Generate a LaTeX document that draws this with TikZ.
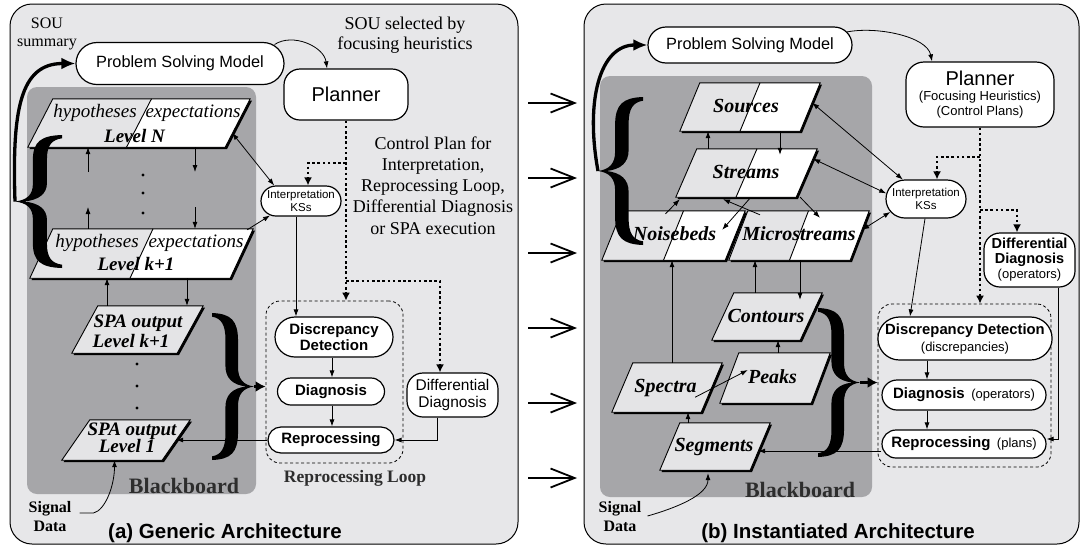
\documentclass[tikz,border=0pt]{standalone}
\usepackage{fontspec}
\setmainfont{Liberation Serif}
\setsansfont{Liberation Sans}
\usetikzlibrary{arrows.meta,shapes.misc,fit,calc}
\definecolor{panel}{RGB}{231,231,233}
\definecolor{bb}{RGB}{166,166,169}
\definecolor{lg}{RGB}{228,228,230}
\definecolor{txtg}{RGB}{45,45,45}

\newcommand\paraOne[6]{%
  \node[inner sep=0pt, fit={(#2,#3)(#4,#5)}] (#1) {};
  \fill[black] ([shift={(1.8,1.8)}]#1.south west) -- ([shift={(#6+1.8,1.8)}]#1.north west) -- ([shift={(1.8,1.8)}]#1.north east) -- ([shift={(1.8-#6,1.8)}]#1.south east) -- cycle;
  \filldraw[fill=lg, line width=0.9pt] (#1.south west) -- ([shift={(#6,0)}]#1.north west) -- (#1.north east) -- ([shift={(-#6,0)}]#1.south east) -- cycle;
}
\newcommand\paraTwo[6]{%
  \node[inner sep=0pt, fit={(#2,#3)(#4,#5)}] (#1) {};
  \fill[black] ([shift={(1.8,1.8)}]#1.south west) -- ([shift={(#6+1.8,1.8)}]#1.north west) -- ([shift={(1.8,1.8)}]#1.north east) -- ([shift={(1.8-#6,1.8)}]#1.south east) -- cycle;
  \fill[white] (#1.south west) -- ([shift={(#6,0)}]#1.north west) -- (#1.north east) -- ([shift={(-#6,0)}]#1.south east) -- cycle;
  \fill[lg] (#1.south west) -- ([shift={(#6,0)}]#1.north west) -- ([shift={(#6/2,0)}]#1.north) -- ([shift={(-#6/2,0)}]#1.south) -- cycle;
  \draw[line width=0.9pt] (#1.south west) -- ([shift={(#6,0)}]#1.north west) -- (#1.north east) -- ([shift={(-#6,0)}]#1.south east) -- cycle;
  \draw[line width=0.9pt] ([shift={(#6/2,0)}]#1.north) -- ([shift={(-#6/2,0)}]#1.south);
}
% filled calligraphic brace: tip at local (0,0.5), ends at local x=1
\newcommand\bracefill[5]{%
  \begin{scope}[shift={(#1,#2)}, xscale=#3, yscale=#4]
  \fill[black] (1,0) .. controls (0.55,0.005) and (0.38,0.05) .. (0.38,0.19)
    -- (0.38,0.37) .. controls (0.38,0.45) and (0.25,0.49) .. (0,0.5)
    .. controls (0.25,0.51) and (0.38,0.55) .. (0.38,0.63)
    -- (0.38,0.81) .. controls (0.38,0.95) and (0.55,0.995) .. (1,1)
    -- (1,0.975) .. controls (0.78,0.965) and (0.68,0.92) .. (0.68,0.82)
    -- (0.68,0.64) .. controls (0.68,0.56) and (0.52,0.51) .. (0.18,0.5)
    .. controls (0.52,0.49) and (0.68,0.44) .. (0.68,0.36)
    -- (0.68,0.18) .. controls (0.68,0.08) and (0.78,0.035) .. (1,0.025) -- cycle;
  \coordinate (#5) at (0,0.5);
  \end{scope}}

\tikzset{
  panelbox/.style={draw=black, line width=1pt, fill=panel, rounded corners=22pt},
  bbbox/.style={fill=bb, rounded corners=10pt},
  stad/.style={rounded rectangle, draw, line width=1.2pt, fill=white, inner sep=1pt, align=center, font=\sffamily},
  rbox/.style={rectangle, rounded corners=#1, draw, line width=1.2pt, fill=white, inner sep=1pt, align=center},
  rbox/.default=15pt,
  loopbox/.style={draw, line width=0.8pt, dash pattern=on 3pt off 2.5pt, rounded corners=14pt},
  arr/.style={line width=0.8pt, -{Latex[length=7pt,width=5pt]}},
  darr/.style={line width=0.8pt, {Latex[length=7pt,width=5pt]}-{Latex[length=7pt,width=5pt]}},
  dotarr/.style={line width=2.4pt, dash pattern=on 2.6pt off 2.6pt, -{Latex[length=8pt,width=8pt]}},
  thickarr/.style={line width=3.3pt, -{Latex[length=14pt,width=12pt]}},
  bracearr/.style={line width=3.3pt, -{Latex[length=10pt,width=11pt]}},
  midarr/.style={line width=1.8pt, -{Straight Barb[length=24pt,width=19pt,line width=1.8pt]}},
  txt/.style={inner sep=0pt, anchor=base},
  serif/.style={txt, font=\fontsize{#1}{#1}\selectfont},
  hyp/.style={txt, font=\itshape\fontsize{19}{20}\selectfont},
  lvl/.style={txt, font=\bfseries\itshape\fontsize{19}{20}\selectfont},
  lvlR/.style={txt, font=\bfseries\itshape\fontsize{20}{20}\selectfont},
  bbtxt/.style={txt, text=txtg, font=\bfseries\fontsize{22}{22}\selectfont},
  captxt/.style={txt, font=\sffamily\bfseries\fontsize{20.5}{22}\selectfont},
  sigtxt/.style={inner sep=0pt, align=center, font=\bfseries\fontsize{16}{19}\selectfont},
}

\begin{document}
\begin{tikzpicture}[x=1pt,y=-1pt]
\useasboundingbox (0,0) rectangle (1081,547);

% ================= LEFT PANEL =================
\draw[panelbox] (10,4) rectangle (518,544);
\fill[bbbox] (27,87) rectangle (256,494);

\node[serif=16] (souA) at (47,28) {SOU};
\node[serif=16] (summA) at (47,46) {summary};
\node[inner sep=0pt, align=center, font=\fontsize{18}{20}\selectfont] (selA) at (405,35.5) {SOU selected by\\focusing heuristics};
\node[inner sep=0pt, align=center, font=\fontsize{18}{21.2}\selectfont] (ctrlA) at (433,185.5) {Control Plan for\\Interpretation,\\Reprocessing Loop,\\Differential Diagnosis\\or SPA execution};

\node[stad, minimum width=210pt, minimum height=42pt, font=\sffamily\fontsize{16.3}{18}\selectfont] (psmA) at (180,63.5) {Problem Solving Model};
\node[rbox=16pt, minimum width=124pt, minimum height=51pt, font=\sffamily\fontsize{20}{22}\selectfont] (plannerA) at (346,94.5) {Planner};
\node[stad, minimum width=82pt, minimum height=30pt, font=\sffamily\fontsize{11.5}{12.5}\selectfont] (interpA) at (301,201) {Interpretation\\KSs};

\node[loopbox, minimum width=137pt, minimum height=162pt] (loopA) at (334.5,382) {};
\node[stad, minimum width=120pt, minimum height=40pt, font=\sffamily\bfseries\fontsize{15}{16.5}\selectfont] (ddA) at (334,337) {Discrepancy\\Detection};
\node[stad, minimum width=109pt, minimum height=27pt, font=\sffamily\bfseries\fontsize{15}{16.5}\selectfont] (diagA) at (331,391.5) {Diagnosis};
\node[stad, minimum width=128pt, minimum height=26pt, font=\sffamily\bfseries\fontsize{15}{16.5}\selectfont] (reprA) at (331,440) {Reprocessing};
\node[rbox=16pt, minimum width=91pt, minimum height=44pt, font=\sffamily\fontsize{15.5}{16.5}\selectfont] (diffA) at (452.5,395) {Differential\\Diagnosis};
\node[txt, text=txtg, font=\bfseries\fontsize{17.5}{18}\selectfont] (loopLblA) at (355,482) {Reprocessing Loop};

% parallelograms
\paraTwo{lvN}{28}{99}{250}{147}{25}
\paraTwo{lvK}{30}{229}{253}{278}{23}
\paraOne{spaK}{72}{306}{203}{353}{26}
\paraOne{spa1}{62}{420}{190}{460}{28}

\node[hyp] (hypN) at (95,117) {hypotheses};
\node[hyp] (expN) at (193,117) {expectations};
\node[lvl] (levN) at (134.5,142) {Level N};
\node[hyp] (hypK) at (97,247) {hypotheses};
\node[hyp] (expK) at (196,247) {expectations};
\node[lvl] (levK) at (136,270) {Level k+1};
\node[lvl] (spaKa) at (138,327) {SPA output};
\node[lvl] (spaKb) at (131,347) {Level k+1};
\node[lvl] (spa1a) at (132,435) {SPA output};
\node[lvl] (spa1b) at (127,452) {Level 1};

\node[bbtxt] (bbA) at (184,493) {Blackboard};
\node[sigtxt] (sigA) at (50,517) {Signal\\Data};
\node[captxt] (capA) at (225,538) {(a) Generic Architecture};

% dots
\coordinate (gapTop) at (0,172);
\coordinate (gapBot) at (0,207);
\foreach \yy in {175,193,213} \fill (143,\yy) circle (1.6pt);
\foreach \yy in {364,386,408} \fill (137,\yy) circle (1.6pt);

% braces
\bracefill{15}{135}{47}{133}{lbAtip}
\bracefill{254}{313}{-42}{147}{rbAtip}

% connectors left
\draw[thickarr] (lbAtip) .. controls (12,110) and (20,63.5) .. (psmA.west);
\draw[bracearr] (rbAtip) -- (rbAtip -| loopA.west);
\draw[arr] ([shift={(-10,-19)}]psmA.east) .. controls +(18,-12) and +(-3,-22) .. ([xshift=-19pt]plannerA.north);

\draw[arr] (88,0 |- gapTop) -- (88,0 |- lvN.south);
\draw[arr] (88,0 |- lvK.north) -- (88,0 |- gapBot);
\draw[arr] (195,0 |- lvN.south) -- (195,0 |- gapTop);
\draw[arr] (195,0 |- gapBot) -- (195,0 |- lvK.north);
\draw[arr] (107,0 |- spaK.north) -- (107,0 |- lvK.south);
\draw[arr] (187,0 |- lvK.south) -- (187,0 |- spaK.north);
\draw[darr] ([shift={(-18,10)}]lvN.east) -- (interpA.150);
\draw[arr] ([shift={(-6,1)}]lvK.north east) -- (interpA.205);
\draw[arr] (296,0 |- interpA.south) -- (296,0 |- ddA.north);
\draw[arr] (332,0 |- ddA.south) -- (332,0 |- diagA.north);
\draw[arr] (332,0 |- diagA.south) -- (332,0 |- reprA.north);
\draw[arr] (437,0 |- diffA.south) |- (reprA.east);
\draw[arr] (reprA.west) -- ([xshift=-14pt]spa1.east);
\draw[arr] ([shift={(8,-4)}]sigA.east) -- ++(14,0) .. controls +(12,-3) and +(0,25) .. ([xshift=-11.5pt]spa1.south);

\coordinate (jA1) at (plannerA.south |- 0,163);
\coordinate (jA2) at (plannerA.south |- 0,281);
\draw[dotarr] (plannerA.south) -- (plannerA.south |- loopA.north);
\draw[dotarr] (jA1) -| (308,0 |- interpA.north);
\draw[dotarr] (jA2) -| (440,0 |- diffA.north);

% ================= MIDDLE ARROWS =================
\foreach \yy in {103,178,253,328,403,478} \draw[midarr] (528,\yy) -- (577,\yy);

% ================= RIGHT PANEL =================
\draw[panelbox] (584,4) rectangle (1079,544);
\fill[bbbox] (600,76) rectangle (872,497);

\node[stad, minimum width=206pt, minimum height=36pt, font=\sffamily\fontsize{16.3}{18}\selectfont] (psmB) at (750,45) {Problem Solving Model};
\node[rbox=18pt, minimum width=148pt, minimum height=65pt, font=\sffamily\fontsize{13}{15}\selectfont] (plannerB) at (980,94.5) {{\fontsize{20}{20}\selectfont Planner}\\(Focusing Heuristics)\\(Control Plans)};
\node[stad, minimum width=82pt, minimum height=38pt, font=\sffamily\fontsize{11.5}{13}\selectfont] (interpB) at (926,199) {Interpretation\\KSs};
\node[rbox=16pt, minimum width=91pt, minimum height=54pt, font=\sffamily\fontsize{13}{15}\selectfont] (diffB) at (1029.5,260) {{\bfseries\fontsize{14.5}{15}\selectfont Differential}\\{\bfseries\fontsize{14.5}{15}\selectfont Diagnosis}\\(operators)};

\node[loopbox, minimum width=173pt, minimum height=163pt] (loopB) at (964.5,385.5) {};
\node[stad, minimum width=168pt, minimum height=43pt, font=\sffamily\fontsize{13}{17}\selectfont] (ddB) at (965,338.5) {{\bfseries\fontsize{14.8}{16}\selectfont Discrepancy Detection}\\(discrepancies)};
\node[stad, minimum width=166pt, minimum height=30pt, font=\sffamily\fontsize{13}{15}\selectfont] (diagB) at (964,395) {{\bfseries\fontsize{15}{16}\selectfont Diagnosis}\enspace(operators)};
\node[stad, minimum width=166pt, minimum height=28pt, font=\sffamily\fontsize{13}{15}\selectfont] (reprB) at (964,444) {{\bfseries\fontsize{15}{16}\selectfont Reprocessing}\enspace(plans)};

\paraTwo{sources}{680}{83}{820}{131}{20}
\paraTwo{streams}{676}{149}{817}{197}{21}
\paraTwo{noise}{602}{211}{745}{260}{20}
\paraTwo{micro}{729}{211}{869}{260}{19}
\paraOne{contours}{712}{293}{822}{340}{22}
\paraOne{peaks}{720}{353}{830}{403}{19}
\paraOne{spectra}{612}{363}{722}{412}{21}
\paraOne{segments}{660}{423}{770}{470}{20}

\node[lvlR] (srcT) at (746,112) {Sources};
\node[lvlR] (strT) at (746,178) {Streams};
\node[lvlR] (noiT) at (674.5,240) {Noisebeds};
\node[lvlR] (micT) at (799,240) {Microstreams};
\node[lvlR] (conT) at (766,322) {Contours};
\node[lvlR] (peaT) at (772.5,383) {Peaks};
\node[lvlR] (speT) at (665.5,392) {Spectra};
\node[lvlR] (segT) at (714,451) {Segments};

\node[bbtxt] (bbB) at (800,497) {Blackboard};
\node[sigtxt] (sigB) at (620,517) {Signal\\Data};
\node[captxt] (capB) at (838,538) {(b) Instantiated Architecture};

\bracefill{598}{97}{45}{148}{lbBtip}
\bracefill{860}{308}{-42}{149}{rbBtip}

% connectors right
\draw[thickarr] (lbBtip) .. controls (585,100) and (600,45) .. (psmB.west);
\draw[bracearr] (rbBtip) -- (rbBtip -| loopB.west);
\draw[arr] ([shift={(-6,-13)}]psmB.east) .. controls +(30,-6) and +(-5,-25) .. ([xshift=-48pt]plannerB.north);

\draw[arr] (708,0 |- streams.north) -- (708,0 |- sources.south);
\draw[arr] (780,0 |- sources.south) -- ($(780,0 |- streams.north)+(0,6)$);
\draw[arr] ([shift={(-8,3)}]noise.north) -- ([shift={(4,2)}]streams.south west);
\draw[arr] ([shift={(-39,4)}]micro.north) -- ([shift={(-23.5,2)}]streams.south);
\draw[arr] ([shift={(3.5,1)}]streams.south) -- ([shift={(-23,19)}]noise.north east);
\draw[arr] ([shift={(-17,0)}]streams.south east) -- ([shift={(21,7)}]micro.north);
\draw[darr] ([shift={(-8,20)}]sources.north east) -- (interpB.140);
\draw[darr] ([shift={(-4,10)}]streams.north east) -- (interpB.172);
\draw[darr] ([shift={(-7,19)}]micro.north east) -- (interpB.200);
\draw[arr] (672,0 |- spectra.north) -- (672,0 |- noise.south);
\draw[arr] (755,0 |- contours.north) -- (755,0 |- micro.south);
\draw[arr] (800,0 |- micro.south) -- ($(800,0 |- contours.north)+(0,7)$);
\draw[arr] (778,0 |- peaks.north) -- (778,0 |- contours.south);
\draw[arr] ([shift={(-27,-15)}]spectra.south east) -- ([shift={(28,-8)}]peaks.west);
\draw[arr] (688,0 |- segments.north) -- (688,0 |- spectra.south);
\draw[arr] ([shift={(6,-1)}]sigB.east) .. controls +(28,-8) and +(0,22) .. ([shift={(-7,3)}]segments.south);

\draw[arr] ([xshift=-1pt]interpB.south) -- (910,0 |- ddB.north);
\draw[arr] (927,0 |- ddB.south) -- (927,0 |- diagB.north);
\draw[arr] (927,0 |- diagB.south) -- (927,0 |- reprB.north);
\draw[arr] (1058,0 |- diffB.south) |- ([yshift=5pt]reprB.east);
\draw[arr] ([yshift=-7pt]reprB.west) -- ($([yshift=-7pt]reprB.west -| segments.east)+(-12,0)$);

\coordinate (jB1) at (plannerB.south |- 0,157);
\coordinate (jB2) at (plannerB.south |- 0,210);
\draw[dotarr] (plannerB.south) -- (plannerB.south |- loopB.north);
\draw[dotarr] (jB1) -| (937,0 |- interpB.north);
\draw[dotarr] (jB2) -| (1017,0 |- diffB.north);
\end{tikzpicture}
\end{document}
